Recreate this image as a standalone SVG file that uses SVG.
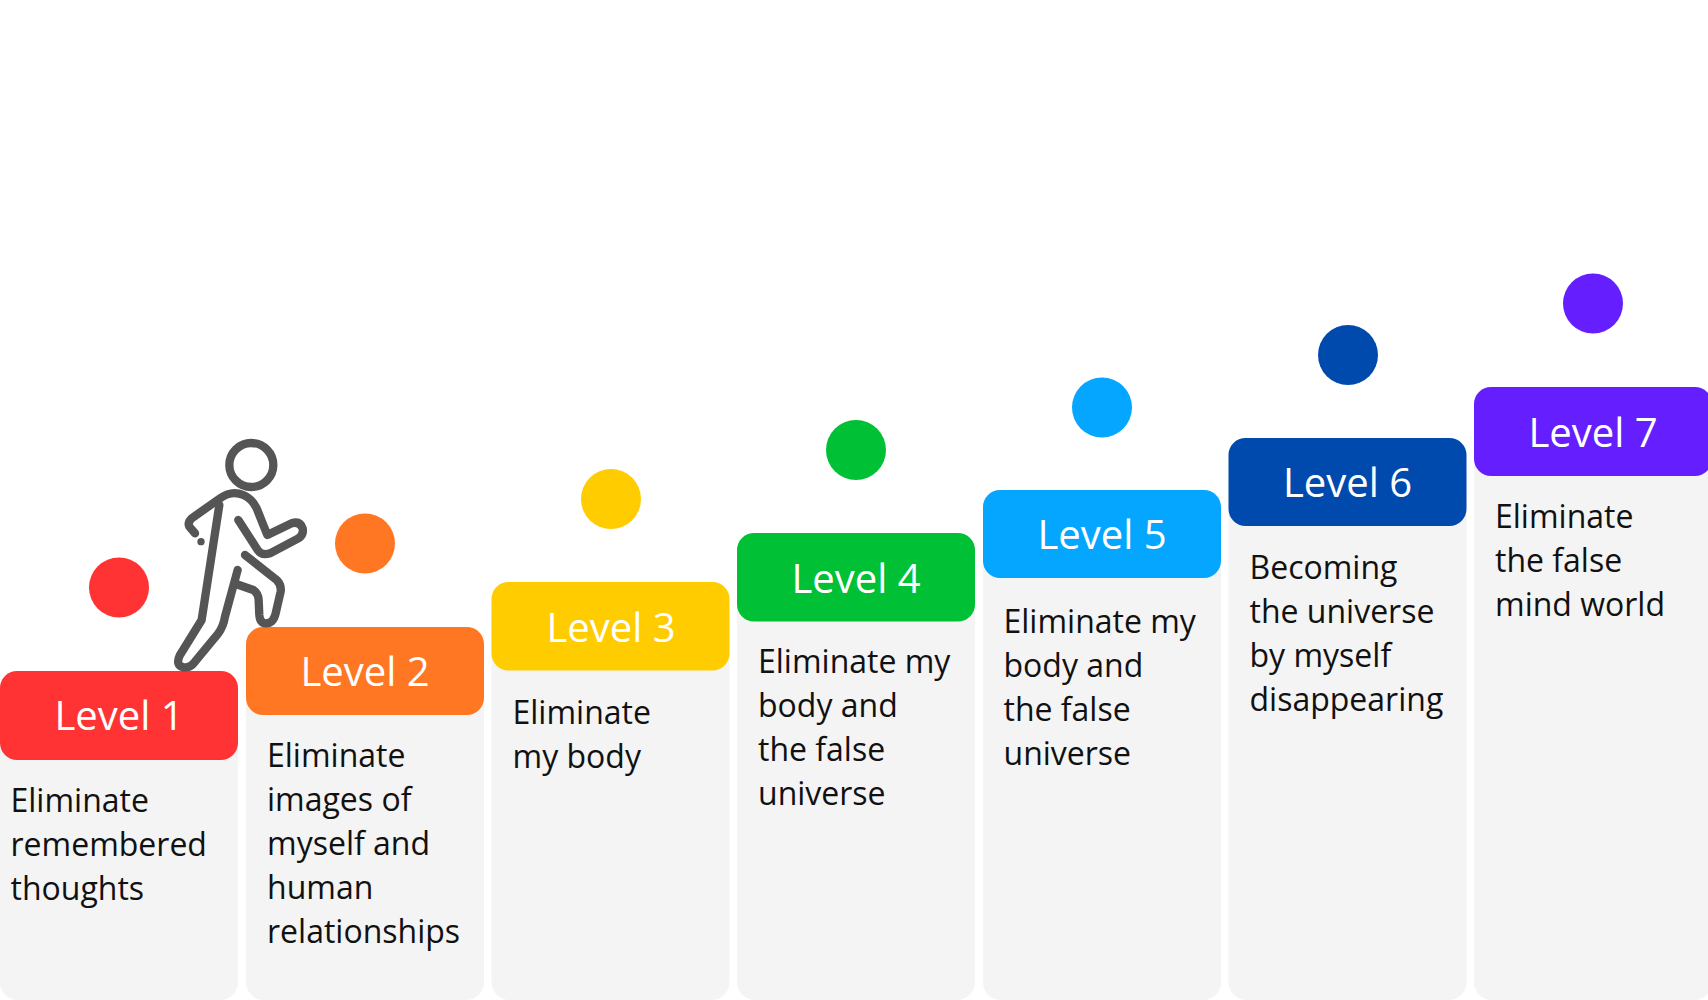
<svg xmlns="http://www.w3.org/2000/svg" width="1708" height="1000" viewBox="0 0 1708 1000">
<style>
.card{fill:#f4f4f4}
.head-label{font-family:"Open Sans",sans-serif;font-size:40px;fill:#fff;text-anchor:middle}
.body{font-family:"Open Sans",sans-serif;font-size:32px;fill:#111}
.fig{fill:none;stroke:#555;stroke-width:25;stroke-linecap:round;stroke-linejoin:round}
</style>
<rect width="1708" height="1000" fill="#fff"/>
<g id="level-1"><rect class="card" x="0" y="690" width="238" height="310" rx="18"/><rect x="0" y="671" width="238" height="89" rx="17" fill="#ff3333"/><circle cx="119" cy="587.5" r="30" fill="#ff3333"/><text class="head-label" x="119" y="730">Level 1</text><text class="body" y="812"><tspan x="10.5">Eliminate</tspan><tspan x="10.5" dy="44">remembered</tspan><tspan x="10.5" dy="44">thoughts</tspan></text></g>
<g id="level-2"><rect class="card" x="246" y="650" width="238" height="350" rx="18"/><rect x="246" y="627" width="238" height="88" rx="17" fill="#ff7723"/><circle cx="365" cy="543.5" r="30" fill="#ff7723"/><text class="head-label" x="365" y="686">Level 2</text><text class="body" y="767"><tspan x="267">Eliminate</tspan><tspan x="267" dy="44">images of</tspan><tspan x="267" dy="44">myself and</tspan><tspan x="267" dy="44">human</tspan><tspan x="267" dy="44">relationships</tspan></text></g>
<g id="level-3"><rect class="card" x="491.5" y="600" width="238" height="400" rx="18"/><rect x="491.5" y="582" width="238" height="88.5" rx="17" fill="#ffcc00"/><circle cx="611" cy="499" r="30" fill="#ffcc00"/><text class="head-label" x="611" y="642">Level 3</text><text class="body" y="724"><tspan x="512.5">Eliminate</tspan><tspan x="512.5" dy="44">my body</tspan></text></g>
<g id="level-4"><rect class="card" x="737" y="550" width="238" height="450" rx="18"/><rect x="737" y="533" width="238" height="88.5" rx="17" fill="#00c136"/><circle cx="856" cy="450" r="30" fill="#00c136"/><text class="head-label" x="856" y="593">Level 4</text><text class="body" y="673"><tspan x="758">Eliminate my</tspan><tspan x="758" dy="44">body and</tspan><tspan x="758" dy="44">the false</tspan><tspan x="758" dy="44">universe</tspan></text></g>
<g id="level-5"><rect class="card" x="983" y="510" width="238" height="490" rx="18"/><rect x="983" y="490" width="238" height="88" rx="17" fill="#05a6ff"/><circle cx="1102" cy="407.5" r="30" fill="#05a6ff"/><text class="head-label" x="1102" y="549">Level 5</text><text class="body" y="633"><tspan x="1003.5">Eliminate my</tspan><tspan x="1003.5" dy="44">body and</tspan><tspan x="1003.5" dy="44">the false</tspan><tspan x="1003.5" dy="44">universe</tspan></text></g>
<g id="level-6"><rect class="card" x="1228.5" y="460" width="238" height="540" rx="18"/><rect x="1228.5" y="438" width="238" height="88" rx="17" fill="#004aad"/><circle cx="1348" cy="355" r="30" fill="#004aad"/><text class="head-label" x="1347.5" y="497">Level 6</text><text class="body" y="579"><tspan x="1249.5">Becoming</tspan><tspan x="1249.5" dy="44">the universe</tspan><tspan x="1249.5" dy="44">by myself</tspan><tspan x="1249.5" dy="44">disappearing</tspan></text></g>
<g id="level-7"><rect class="card" x="1474" y="410" width="238" height="590" rx="18"/><rect x="1474" y="387" width="238" height="89" rx="17" fill="#651fff"/><circle cx="1593" cy="303.5" r="30" fill="#651fff"/><text class="head-label" x="1593" y="447">Level 7</text><text class="body" y="528"><tspan x="1495">Eliminate</tspan><tspan x="1495" dy="44">the false</tspan><tspan x="1495" dy="44">mind world</tspan></text></g>
<g id="climber" transform="translate(160 430) scale(.3333)">
<circle class="fig" cx="274" cy="105" r="66"/>
<path class="fig" d="M105 310L88 290Q82 278 95 265L180 205Q215 180 250 195Q275 205 290 235L322 315L395 280Q420 272 428 295Q432 315 415 325L330 370Q305 378 293 360L235 270"/>
<path class="fig" d="M178 225L125 570L60 675Q45 705 70 712Q90 715 105 695L175 610Q190 590 195 560L233 420"/>
<path class="fig" d="M255 375L350 450Q365 465 362 485L347 550Q340 580 318 580Q300 580 298 555L296 510Q295 490 280 480L228 462"/>
<circle cx="123" cy="335" r="11" fill="#555"/>
</g>
</svg>
